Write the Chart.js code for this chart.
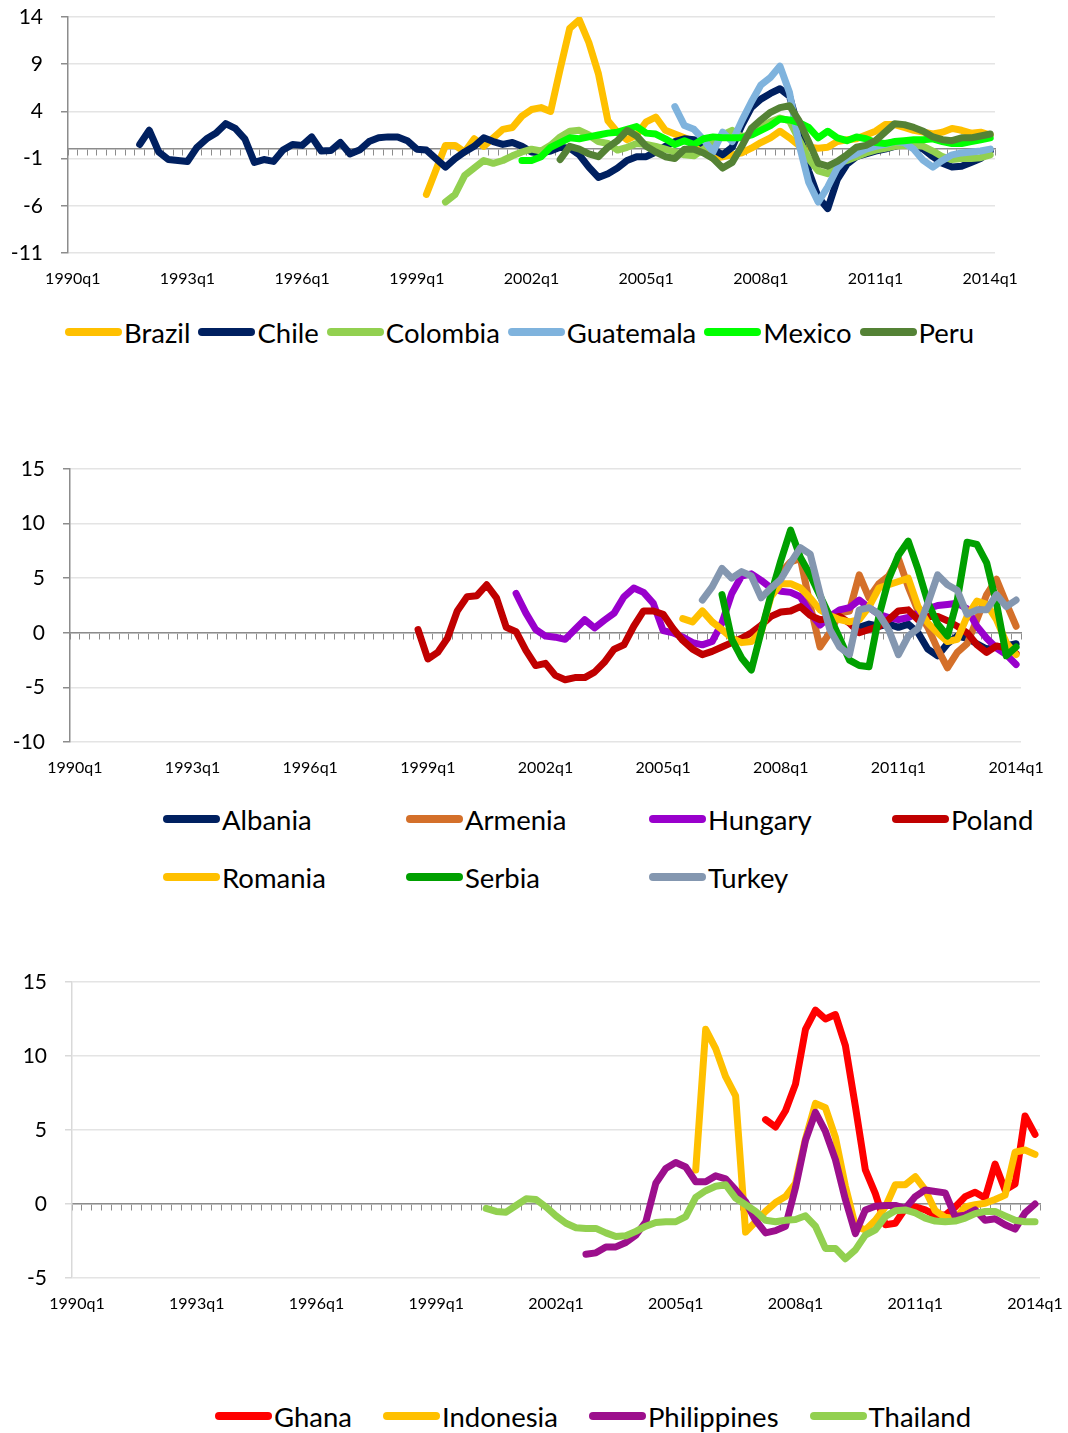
<!DOCTYPE html>
<html>
<head>
<meta charset="utf-8">
<script src="https://cdn.jsdelivr.net/npm/chart.js@4.4.1/dist/chart.umd.min.js"></script>
<style>
  body { margin: 0; background: #fff; width: 1068px; height: 1433px; position: relative; overflow: hidden; font-family: Lato, sans-serif; }
  canvas { position: absolute; left: 0; }
  .legend { position: absolute; font-size: 27.5px; color: #000; }
  .row { display: flex; align-items: center; }
  .grid4 { display: grid; grid-template-columns: repeat(4, 243px); row-gap: 22px; }
  .item { display: flex; align-items: center; white-space: nowrap; height: 36px; }
  .swatch { display: inline-block; width: 57px; height: 8px; border-radius: 4px; margin-right: 2px; }
</style>
</head>
<body>
<canvas id="c1" width="1068" height="300" style="top:0px"></canvas>
<div id="lg1" class="legend row" style="top:314px; left:65px; gap:8px"></div>

<canvas id="c2" width="1068" height="350" style="top:440px"></canvas>
<div id="lg2" class="legend grid4" style="top:801px; left:163px"></div>

<canvas id="c3" width="1068" height="370" style="top:950px"></canvas>
<div id="lg3" class="legend row" style="top:1398px; left:215px; gap:31px"></div>

<script>
// quarters 1990q1 .. 2014q1
const quarters = [];
for (let y = 1990; y <= 2014; y++) for (let q = 1; q <= 4; q++) quarters.push(y + "q" + q);
quarters.length = 97;

// ---- panel 1: Latin America ----
const names1 = ["Brazil", "Chile", "Colombia", "Guatemala", "Mexico", "Peru"];
const colors1 = ["#FFC000", "#002060", "#92D050", "#7FB3DD", "#00FF00", "#548235"];
const starts1 = ["1999q2", "1991q4", "1999q4", "2005q4", "2001q4", "2002q4"];
const brazil = [-4.8, -2.2, 0.4, 0.4, -0.3, 1.1, 0.3, 1.2, 2.1, 2.3,
  3.5, 4.2, 4.4, 4.0, 8.5, 12.8, 13.7, 11.3, 8.0, 3.0,
  1.8, 1.0, 1.5, 2.9, 3.4, 2.0, 1.6, 1.2, 0.8, 0.0,
  -1.0, -0.8, -0.6, -0.4, 0.1, 0.7, 1.2, 1.9, 1.2, 0.4,
  0.2, 0.1, 0.2, 0.8, 1.0, 1.1, 1.5, 1.9, 2.6, 2.6,
  2.3, 2.0, 1.8, 1.6, 1.8, 2.2, 2.0, 1.7, 1.8, 1.5];
const chile = [0.5, 2.0, -0.3, -1.1, -1.2, -1.3, 0.2, 1.1, 1.7, 2.7,
  2.2, 1.1, -1.4, -1.1, -1.3, -0.1, 0.5, 0.4, 1.3, -0.2,
  -0.15, 0.7, -0.5, -0.1, 0.8, 1.2, 1.3, 1.3, 0.9, 0.0,
  -0.1, -1.0, -1.9, -1.0, -0.3, 0.3, 1.2, 0.8, 0.5, 0.7,
  0.3, -0.3, -0.4, -0.2, 0.2, 0.1, -0.6, -1.9, -3.0, -2.6,
  -2.0, -1.2, -0.8, -0.8, -0.3, 0.3, 0.8, 1.1, 1.0, 0.5,
  0.0, -0.6, 0.2, 2.5, 4.4, 5.3, 5.9, 6.4, 5.6, 2.0,
  -2.3, -5.1, -6.3, -3.2, -1.6, -0.8, -0.5, -0.2, 0.0, 0.3,
  0.6, 0.4, 0.0, -0.8, -1.5, -1.9, -1.8, -1.4, -1.0, -0.2];
const colombia = [-5.6, -4.8, -2.8, -2.0, -1.2, -1.5, -1.2, -0.7, -0.3, 0.0,
  -0.2, 0.4, 1.3, 1.9, 2.0, 1.5, 0.8, 0.6, -0.1, 0.2,
  0.6, 0.5, 0.3, 0.0, -0.3, -0.6, -0.7, 0.0, 0.7, 1.5,
  2.0, 1.3, 1.6, 2.3, 2.9, 3.3, 3.0, 1.0, -1.0, -2.3,
  -2.6, -1.5, -1.2, -0.8, -0.4, -0.1, 0.1, 0.3, 0.4, 0.4,
  0.3, -0.2, -0.8, -1.1, -1.0, -1.0, -0.9, -0.6];
const guatemala = [4.5, 2.5, 2.1, 1.0, -0.3, 1.8, 0.8, 3.0, 5.0, 6.8,
  7.6, 8.8, 6.0, 0.5, -3.5, -5.6, -4.0, -2.0, -0.9, -0.5,
  0.0, 0.3, 0.5, 0.8, 0.7, 0.0, -1.2, -1.9, -1.2, -0.6,
  -0.4, -0.3, -0.2, 0.0];
const mexico = [-1.2, -1.2, -0.8, 0.2, 0.7, 1.2, 1.1, 1.3, 1.5, 1.7,
  1.8, 2.1, 2.4, 1.7, 1.6, 1.1, 0.5, 0.9, 0.5, 1.1,
  1.3, 1.2, 1.2, 1.2, 1.5, 2.0, 2.5, 3.2, 3.1, 2.8,
  2.3, 1.2, 1.9, 1.2, 0.9, 1.3, 1.1, 0.7, 0.6, 0.8,
  0.9, 1.0, 1.0, 1.1, 0.8, 0.6, 0.6, 0.8, 1.0, 1.2];
const peru = [-1.1, 0.3, 0.0, -0.5, -0.8, 0.2, 0.9, 2.0, 1.4, 0.3,
  -0.3, -0.8, -1.0, 0.0, 0.0, -0.4, -1.0, -2.0, -1.4, 0.3,
  2.2, 3.1, 3.9, 4.4, 4.6, 3.0, 0.8, -1.5, -1.8, -1.3,
  -0.6, 0.2, 0.4, 0.9, 1.8, 2.7, 2.6, 2.3, 1.9, 1.3,
  1.0, 0.9, 1.2, 1.2, 1.4, 1.6];
const series1 = [brazil, chile, colombia, guatemala, mexico, peru];

// ---- panel 2: Europe ----
const names2 = ["Albania", "Armenia", "Hungary", "Poland", "Romania", "Serbia", "Turkey"];
const colors2 = ["#002060", "#D4702A", "#9900CC", "#C00000", "#FFC000", "#00A000", "#8497B0"];
const starts2 = ["2010q1", "2007q4", "2001q2", "1998q4", "2005q3", "2006q3", "2006q1"];
const albania = [0.5, 0.8, 0.6, 0.8, 0.5, 0.8, 0.0, -1.5, -2.1, -1.0,
  -0.3, -0.5, -1.0, -1.5, -1.3, -1.2, -1.0];
const armenia = [3.5, 5.5, 6.5, 6.8, 2.5, -1.3, 0.0, 1.8, 2.0, 5.3,
  3.2, 4.5, 5.2, 6.8, 4.2, 2.0, 0.5, -1.5, -3.2, -1.8,
  -1.0, 1.2, 3.5, 4.9, 2.7, 0.6];
const hungary = [3.6, 1.8, 0.3, -0.3, -0.4, -0.6, 0.3, 1.2, 0.45, 1.15,
  1.8, 3.3, 4.1, 3.7, 2.7, 0.2, 0.0, -0.4, -0.9, -1.1,
  -0.8, 0.9, 3.6, 5.2, 5.4, 4.8, 4.1, 3.8, 3.7, 3.3,
  1.8, 0.7, 1.5, 2.1, 2.3, 3.0, 2.3, 1.7, 1.4, 1.2,
  1.4, 1.8, 2.2, 2.5, 2.6, 2.7, 2.2, 0.6, -0.5, -1.4,
  -2.0, -2.9];
const poland = [0.3, -2.4, -1.8, -0.5, 2.0, 3.3, 3.4, 4.4, 3.2, 0.5,
  0.1, -1.6, -3.0, -2.8, -3.9, -4.3, -4.1, -4.1, -3.6, -2.7,
  -1.5, -1.1, 0.6, 2.0, 2.0, 1.7, 0.4, -0.7, -1.5, -2.0,
  -1.7, -1.3, -0.9, -0.5, 0.0, 0.7, 1.5, 1.9, 2.0, 2.4,
  1.6, 1.2, 1.3, 1.5, 0.9, 0.0, 0.3, 0.6, 1.2, 2.0,
  2.1, 1.2, 1.5, 1.5, 1.1, 0.6, 0.0, -1.1, -1.8, -1.2,
  -1.4, -1.9];
const romania = [1.3, 1.0, 2.0, 1.0, 0.3, -0.5, -0.9, -0.8, 0.1, 3.3,
  4.5, 4.5, 4.1, 3.2, 2.1, 1.6, 1.2, 1.0, 1.2, 2.4,
  4.1, 4.4, 4.7, 5.0, 2.4, 0.9, 0.0, -0.8, -0.6, 1.5,
  2.9, 2.6, 1.2, -0.9, -2.0];
const serbia = [3.5, -0.6, -2.3, -3.4, 0.1, 3.5, 6.6, 9.4, 6.9, 5.3,
  3.4, 1.5, -0.5, -2.5, -3.0, -3.1, 1.5, 4.9, 7.1, 8.4,
  5.8, 2.8, 0.8, -0.3, 3.0, 8.3, 8.1, 6.4, 2.7, -2.1,
  -1.3];
const turkey = [3.0, 4.2, 5.9, 5.0, 5.6, 5.2, 3.2, 4.1, 4.9, 6.4,
  7.8, 7.2, 3.6, 0.3, -1.3, -2.0, 2.1, 2.3, 1.7, 0.3,
  -2.0, -0.3, 0.4, 2.7, 5.3, 4.4, 3.9, 1.7, 2.1, 2.1,
  3.5, 2.4, 3.0];
const series2 = [albania, armenia, hungary, poland, romania, serbia, turkey];

// ---- panel 3: Asia / Africa ----
const names3 = ["Ghana", "Indonesia", "Philippines", "Thailand"];
const colors3 = ["#FF0000", "#FFC000", "#9C0F8C", "#92D050"];
const starts3 = ["2007q2", "2005q3", "2002q4", "2000q2"];
const ghana = [5.7, 5.2, 6.3, 8.1, 11.8, 13.1, 12.5, 12.8, 10.7, 6.6,
  2.3, 0.7, -1.4, -1.3, -0.3, -0.2, -0.4, -0.75, -0.75, -0.2,
  0.5, 0.8, 0.4, 2.7, 0.95, 1.35, 5.95, 4.7];
const indonesia = [2.3, 11.8, 10.5, 8.6, 7.3, -1.9, -1.2, -0.5, 0.1, 0.5,
  1.4, 4.4, 6.8, 6.5, 4.5, 1.2, -1.5, -1.75, -1.1, -0.2,
  1.3, 1.3, 1.85, 0.95, -0.45, -0.9, -1.0, -0.2, -0.05, 0.05,
  0.3, 0.6, 3.5, 3.65, 3.35];
const philippines = [-3.4, -3.3, -2.9, -2.9, -2.6, -2.1, -1.2, 1.4, 2.4, 2.8,
  2.5, 1.5, 1.5, 1.9, 1.7, 0.95, 0.15, -1.1, -1.95, -1.8,
  -1.5, 1.1, 4.3, 6.2, 4.9, 3.0, 0.3, -2.0, -0.4, -0.15,
  -0.1, -0.1, -0.3, 0.5, 0.95, 0.85, 0.75, -0.85, -0.75, -0.4,
  -1.1, -1.0, -1.4, -1.7, -0.6, 0.0];
const thailand = [-0.3, -0.5, -0.55, -0.1, 0.35, 0.3, -0.2, -0.8, -1.3, -1.6,
  -1.65, -1.65, -1.95, -2.2, -2.15, -1.85, -1.5, -1.25, -1.2, -1.2,
  -0.85, 0.45, 0.9, 1.2, 1.3, 0.4, -0.05, -0.5, -1.1, -1.2,
  -1.1, -1.05, -0.8, -1.5, -3.0, -3.0, -3.7, -3.1, -2.1, -1.75,
  -0.85, -0.45, -0.4, -0.6, -0.95, -1.15, -1.2, -1.15, -0.95, -0.65,
  -0.5, -0.5, -0.8, -1.1, -1.2, -1.2];
const series3 = [ghana, indonesia, philippines, thailand];

// place a series on the full quarter axis
function pad(start, values) {
  const s = quarters.indexOf(start);
  const out = new Array(quarters.length).fill(null);
  values.forEach((v, k) => { out[s + k] = v; });
  return out;
}

function makeChart(id, names, colors, starts, series, yMin, yMax, box) {
  const n = names.length;
  new Chart(document.getElementById(id), {
    type: "line",
    data: {
      labels: quarters,
      datasets: names.map((name, k) => ({
        label: name,
        data: pad(starts[k], series[k]),
        borderColor: colors[k],
        backgroundColor: colors[k],
        borderWidth: 7,
        pointRadius: 0,
        borderCapStyle: "round",
        borderJoinStyle: "round",
        tension: 0,
        spanGaps: false,
        order: n - k
      }))
    },
    options: {
      responsive: false,
      animation: false,
      events: [],
      layout: { padding: { top: box.top, right: box.right, bottom: box.bottom, left: 0 } },
      plugins: { legend: { display: false }, tooltip: { enabled: false } },
      scales: {
        x: {
          type: "category",
          offset: true,
          grid: { display: false, drawTicks: false },
          border: { display: false },
          ticks: {
            autoSkip: false, maxRotation: 0, minRotation: 0, padding: 16,
            color: "#000", font: { family: "Lato", size: 16 },
            callback: (v, i) => (i % 12 === 0 ? quarters[i] : "")
          },
          afterFit: s => { s.height = 40; s.paddingLeft = 0; s.paddingRight = 0; }
        },
        x0: {
          type: "category",
          offset: true,
          position: { y: 0 },
          grid: { drawOnChartArea: false, drawTicks: true, tickLength: 6, color: "#8c8c8c", offset: true },
          border: { color: "#8c8c8c", width: 1.5 },
          ticks: { display: false }
        },
        y: {
          min: yMin, max: yMax,
          ticks: { stepSize: 5, color: "#000", font: { family: "Lato", size: 21 }, padding: 18 },
          grid: { color: "#e4e4e4", lineWidth: 1.5, tickLength: 7, tickColor: box.axis },
          border: { color: box.axis, width: 1.5 },
          afterFit: s => { s.width = box.left; s.paddingTop = 0; s.paddingBottom = 0; }
        }
      }
    }
  });
}

function buildLegend(id, names, colors) {
  const el = document.getElementById(id);
  names.forEach((name, k) => {
    const it = document.createElement("div");
    it.className = "item";
    it.innerHTML = '<span class="swatch" style="background:' + colors[k] + '"></span><span>' + name + "</span>";
    el.appendChild(it);
  });
}

makeChart("c1", names1, colors1, starts1, series1, -11, 14, { top: 17, right: 73, bottom: 7, left: 68, axis: "#8c8c8c" });
makeChart("c2", names2, colors2, starts2, series2, -10, 15, { top: 29, right: 47, bottom: 8, left: 70, axis: "#8c8c8c" });
makeChart("c3", names3, colors3, starts3, series3, -5, 15, { top: 32, right: 28, bottom: 2, left: 72, axis: "#d9d9d9" });

buildLegend("lg1", names1, colors1);
buildLegend("lg2", names2, colors2);
buildLegend("lg3", names3, colors3);
</script>
</body>
</html>
